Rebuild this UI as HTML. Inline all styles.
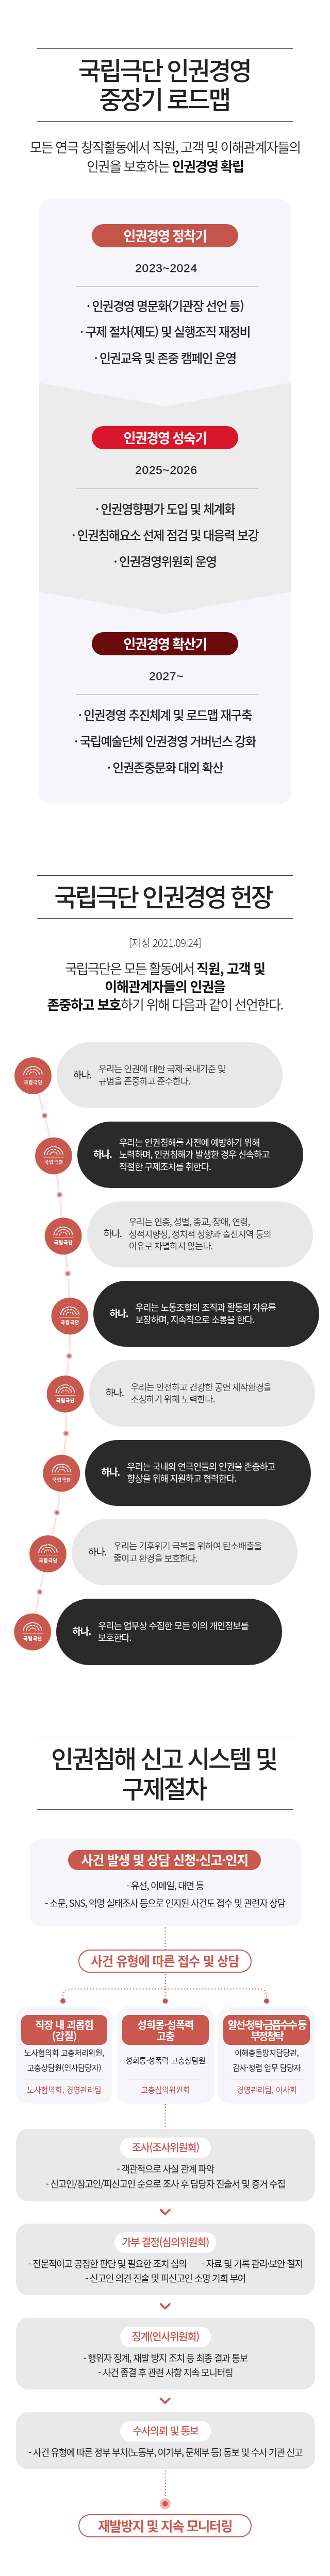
<!DOCTYPE html><html lang="ko"><head><meta charset="utf-8"><title>국립극단 인권경영</title><style>
*{margin:0;padding:0;box-sizing:border-box}
html,body{width:640px;height:5013px;background:#fff;overflow:hidden}
body{position:relative;will-change:transform;font-family:"Noto Sans CJK KR","Liberation Sans",sans-serif;color:#222;-webkit-font-smoothing:antialiased}
.abs{position:absolute}
.c{position:absolute;left:0;width:640px;text-align:center;white-space:nowrap}
.hl{position:absolute;height:1px;background:#333;left:72px;width:496px}
.title{font-size:48px;font-weight:500;line-height:58px;color:#222;letter-spacing:-3px}
.sub{font-size:26px;font-weight:350;line-height:37px;color:#222;letter-spacing:-1.8px}
.sub b{font-weight:700;color:#111}
.badge{position:absolute;left:178px;width:284px;height:45px;border-radius:23px;color:#fff;font-size:26px;font-weight:700;line-height:44px;text-align:center;letter-spacing:-1.7px}
.yr{font-family:'Liberation Sans',sans-serif;font-size:22.5px;font-weight:400;line-height:30px;color:#222;letter-spacing:0.8px;-webkit-text-stroke:0.4px #222;padding-left:5px}
.dv{position:absolute;left:147px;width:354px;height:2px;background:#cfcfd2}
.it{font-size:24px;font-weight:500;line-height:30px;color:#222;letter-spacing:-1.7px}

.date{font-size:20px;font-weight:300;line-height:24px;color:#333;letter-spacing:-0.7px}
.para{font-size:26px;font-weight:350;line-height:35px;color:#222;letter-spacing:-1.8px}
.para b{font-weight:700;color:#111;letter-spacing:-1.2px}
.pill{position:absolute;width:438px;height:128.3px;border-radius:65px}
.pl{background:#e8e8e8;color:#333}
.pd{background:#2a2a2a;color:#fff}
.hana{position:absolute;left:31px;top:0;height:128.3px;display:flex;align-items:center;font-size:18.5px;font-weight:500;letter-spacing:-1.5px;white-space:nowrap;padding-bottom:5px}
.pl .hana{color:#222;font-weight:400;left:32px}
.ptx{position:absolute;left:81px;top:0;height:128.3px;display:flex;align-items:center;font-size:17.5px;font-weight:350;line-height:23.4px;letter-spacing:-1px;white-space:nowrap;padding-bottom:3px}
.pd .ptx{font-weight:400}
.pd .hana{font-weight:700}

.bx{position:absolute;background:#f6f5fa}
.rb{position:absolute;background:#c9594e;color:#fff;font-weight:700;text-align:center;white-space:nowrap}
.t18{font-size:18px;font-weight:400;line-height:26px;color:#222;letter-spacing:-1.3px}
.op{position:absolute;left:152px;width:336px;height:45px;border:2px solid #c9594e;border-radius:23px;background:#fff;color:#c9594e;font-weight:700;text-align:center;white-space:nowrap;line-height:40px}
.col{position:absolute;top:3894.6px;width:187.6px;height:188px;border-radius:22px;background:#f6f5fa;text-align:center;white-space:nowrap}
.col .rb{left:10px;top:16.4px;width:167.6px;height:58.5px;border-radius:13px;font-size:20px;line-height:22.7px;letter-spacing:-1.1px;display:flex;align-items:center;justify-content:center;padding-top:2px}
.ct{position:absolute;left:0;width:100%;font-size:15px;font-weight:400;line-height:28.5px;color:#222;letter-spacing:-0.4px}
.cd{position:absolute;left:19px;right:19px;top:140px;height:1px;background:#d4d3d8}
.cr{position:absolute;left:0;width:100%;top:147.5px;font-size:15px;font-weight:400;line-height:28px;color:#c9524a;letter-spacing:-0.2px}
.gb{position:absolute;left:30.7px;width:580px;border-radius:24px;background:#e9e9e9;text-align:center;white-space:nowrap}
.lb{display:inline-block;margin-top:17px;height:39.5px;min-width:176px;padding:0 14px;border-radius:20px;background:#fff;color:#c9524a;font-size:20px;font-weight:500;line-height:37px;letter-spacing:-1.4px}
.gt{margin-top:7px;font-size:18px;font-weight:400;line-height:27.7px;color:#222;letter-spacing:-1.25px}
</style></head><body>
<div class="hl" style="top:94px"></div>
<div class="c title" style="top:106px;line-height:56px;letter-spacing:-3.7px;padding-right:3px">국립극단 인권경영<br>중장기 로드맵</div>
<div class="hl" style="top:235px"></div>
<div class="c sub" style="top:266px">모든 연극 창작활동에서 직원, 고객 및 이해관계자들의<br>인권을 보호하는 <b>인권경영 확립</b></div>
<svg class="abs" style="left:76px;top:387px" width="488" height="1173" viewBox="0 0 488 1173"><defs><clipPath id="cc"><rect width="488" height="1173" rx="20"/></clipPath></defs><g clip-path="url(#cc)"><rect width="488" height="1173" fill="#f6f5fa"/><polygon points="0,356 244,401.5 488,356 488,761.4 244,805 0,761.4" fill="#ececec"/></g></svg>
<div class="badge" style="top:435px;background:#c4554b">인권경영 정착기</div>
<div class="c yr" style="top:506px">2023~2024</div>
<div class="dv" style="top:555px"></div>
<div class="c it" style="top:577.5px">· 인권경영 명문화(기관장 선언 등)</div>
<div class="c it" style="top:628.0px">· 구제 절차(제도) 및 실행조직 재정비</div>
<div class="c it" style="top:678.5px">· 인권교육 및 존중 캠페인 운영</div>
<div class="badge" style="top:827px;background:#d9162b">인권경영 성숙기</div>
<div class="c yr" style="top:898px">2025~2026</div>
<div class="dv" style="top:947px"></div>
<div class="c it" style="top:971.5px">· 인권영향평가 도입 및 체계화</div>
<div class="c it" style="top:1022.5px">· 인권침해요소 선제 점검 및 대응력 보강</div>
<div class="c it" style="top:1073.5px">· 인권경영위원회 운영</div>
<div class="badge" style="top:1227px;background:#6b0a0a">인권경영 확산기</div>
<div class="c yr" style="top:1298px">2027~</div>
<div class="dv" style="top:1347px"></div>
<div class="c it" style="top:1371.5px">· 인권경영 추진체계 및 로드맵 재구축</div>
<div class="c it" style="top:1422.5px">· 국립예술단체 인권경영 거버넌스 강화</div>
<div class="c it" style="top:1473.5px">· 인권존중문화 대외 확산</div>
<div class="hl" style="top:1699px"></div>
<div class="c title" style="top:1708.5px;letter-spacing:-3.9px;padding-right:8px">국립극단 인권경영 헌장</div>
<div class="hl" style="top:1782px"></div>
<div class="c date" style="top:1818px">[제정 2021.09.24]</div>
<div class="c para" style="top:1861px"><span style="letter-spacing:-2.15px">국립극단은 모든 활동에서 </span><b>직원, 고객 및</b><br><b>이해관계자들의 인권을</b><br><b>존중하고 보호</b>하기 위해 다음과 같이 선언한다.</div>
<svg class="abs" style="left:0;top:2000px" width="640" height="1260" viewBox="0 2000 640 1260"><defs><g id="ic"><circle r="36" fill="#c9594e"/><g fill="none" stroke="#fff" stroke-width="1.8"><path d="M-18,-1.6 A18,16.2 0 0 1 18,-1.6" stroke-dasharray="8 0.8"/><path d="M-12.6,-1.6 A12.6,11 0 0 1 12.6,-1.6" stroke-dasharray="5 1.2"/><path d="M-7,-1.6 A7,6 0 0 1 7,-1.6" stroke-dasharray="3.4 1.2"/></g><rect x="-20" y="2.2" width="40" height="1" fill="#f3b9b2"/><text x="0.5" y="16" text-anchor="middle" font-size="9" font-weight="900" fill="#fff" letter-spacing="0.9" font-family="Noto Sans CJK KR, sans-serif">국립극단</text></g></defs><path d="M64.0,2088.0 C67.8,2100.9 79.8,2139.5 86.5,2165.4 C93.2,2191.3 99.2,2217.8 104.0,2243.4 C108.8,2269.0 112.4,2293.0 115.5,2319.0 C118.6,2345.0 120.0,2373.8 122.7,2399.3 C125.4,2424.8 129.4,2446.2 131.5,2472.0 C133.6,2497.8 135.0,2527.7 135.4,2554.4 C135.8,2581.1 135.5,2606.8 134.0,2632.0 C132.5,2657.2 127.6,2680.7 126.6,2705.7 C125.6,2730.7 129.2,2756.3 128.0,2782.0 C126.8,2807.7 122.2,2833.9 119.3,2859.6 C116.4,2885.3 114.9,2909.9 110.5,2936.0 C106.1,2962.1 98.6,2990.3 93.0,3016.0 C87.4,3041.7 82.0,3064.8 77.0,3090.0 C72.0,3115.2 65.5,3154.6 63.2,3167.5" fill="none" stroke="#fbe1de" stroke-width="3.4"/><circle cx="86.5" cy="2165.4" r="9.5" fill="#fff"/><circle cx="86.5" cy="2165.4" r="5.5" fill="#f2aaa3"/><circle cx="86.5" cy="2165.4" r="2.8" fill="#e0594f"/><circle cx="115.5" cy="2319" r="9.5" fill="#fff"/><circle cx="115.5" cy="2319" r="5.5" fill="#f2aaa3"/><circle cx="115.5" cy="2319" r="2.8" fill="#e0594f"/><circle cx="131.5" cy="2472" r="9.5" fill="#fff"/><circle cx="131.5" cy="2472" r="5.5" fill="#f2aaa3"/><circle cx="131.5" cy="2472" r="2.8" fill="#e0594f"/><circle cx="134" cy="2632" r="9.5" fill="#fff"/><circle cx="134" cy="2632" r="5.5" fill="#f2aaa3"/><circle cx="134" cy="2632" r="2.8" fill="#e0594f"/><circle cx="128" cy="2782" r="9.5" fill="#fff"/><circle cx="128" cy="2782" r="5.5" fill="#f2aaa3"/><circle cx="128" cy="2782" r="2.8" fill="#e0594f"/><circle cx="110.5" cy="2936" r="9.5" fill="#fff"/><circle cx="110.5" cy="2936" r="5.5" fill="#f2aaa3"/><circle cx="110.5" cy="2936" r="2.8" fill="#e0594f"/><circle cx="77" cy="3090" r="9.5" fill="#fff"/><circle cx="77" cy="3090" r="5.5" fill="#f2aaa3"/><circle cx="77" cy="3090" r="2.8" fill="#e0594f"/><use href="#ic" x="64" y="2088"/><use href="#ic" x="104" y="2243.4"/><use href="#ic" x="122.7" y="2399.3"/><use href="#ic" x="135.4" y="2554.4"/><use href="#ic" x="126.6" y="2705.7"/><use href="#ic" x="119.3" y="2859.6"/><use href="#ic" x="93" y="3016"/><use href="#ic" x="63.2" y="3167.5"/></svg>
<div class="pill pl" style="left:110.0px;top:2023.0px"><div class="hana">하나.</div><div class="ptx"><span>우리는 인권에 대한 국제·국내기준 및<br>규범을 존중하고 준수한다.</span></div></div>
<div class="pill pd" style="left:150.0px;top:2177.3px"><div class="hana">하나.</div><div class="ptx"><span>우리는 인권침해를 사전에 예방하기 위해<br>노력하며, 인권침해가 발생한 경우 신속하고<br>적절한 구제조치를 취한다.</span></div></div>
<div class="pill pl" style="left:168.7px;top:2331.7px"><div class="hana">하나.</div><div class="ptx"><span>우리는 인종, 성별, 종교, 장애, 연령,<br>성적지향성, 정치적 성향과 출신지역 등의<br>이유로 차별하지 않는다.</span></div></div>
<div class="pill pd" style="left:181.4px;top:2486.0px"><div class="hana">하나.</div><div class="ptx"><span>우리는 노동조합의 조직과 활동의 자유를<br>보장하며, 지속적으로 소통을 한다.</span></div></div>
<div class="pill pl" style="left:172.6px;top:2640.3px"><div class="hana">하나.</div><div class="ptx"><span>우리는 안전하고 건강한 공연 제작환경을<br>조성하기 위해 노력한다.</span></div></div>
<div class="pill pd" style="left:165.3px;top:2794.7px"><div class="hana">하나.</div><div class="ptx"><span>우리는 국내외 연극인들의 인권을 존중하고<br>향상을 위해 지원하고 협력한다.</span></div></div>
<div class="pill pl" style="left:139.0px;top:2949.0px"><div class="hana">하나.</div><div class="ptx"><span>우리는 기후위기 극복을 위하여 탄소배출을<br>줄이고 환경을 보호한다.</span></div></div>
<div class="pill pd" style="left:109.2px;top:3103.3px"><div class="hana">하나.</div><div class="ptx"><span>우리는 업무상 수집한 모든 이의 개인정보를<br>보호한다.</span></div></div>
<div class="hl" style="top:3371px"></div>
<div class="c title" style="top:3382px;letter-spacing:-3.45px;padding-right:5px">인권침해 신고 시스템 및<br>구제절차</div>
<div class="hl" style="top:3512px"></div>
<div class="bx" style="left:58px;top:3570.4px;width:526.5px;height:168.5px;border-radius:22px"></div>
<div class="rb" style="left:132.4px;top:3591.3px;width:374px;height:39px;border-radius:20px;font-size:25px;line-height:37px;letter-spacing:-1.03px">사건 발생 및 상담 신청·신고·인지</div>
<div class="c t18" style="top:3645.5px">- 유선, 이메일, 대면 등</div>
<div class="c t18" style="top:3680px">- 소문, SNS, 익명 실태조사 등으로 인지된 사건도 접수 및 관련자 상담</div>
<svg class="abs" style="left:0;top:3730px" width="640" height="1180" viewBox="0 3730 640 1180"><g fill="none" stroke="#d2594e" stroke-width="2" stroke-dasharray="2 4"><path d="M320.5,3741 V3784"/><path d="M320.5,3831 V3878"/><path d="M320.5,3860.5 H137 Q122,3860.5 122,3875.5 V3880"/><path d="M320.5,3860.5 H502 Q517,3860.5 517,3875.5 V3880"/><path d="M320.5,4084 V4132"/><path d="M320.5,4795 V4847"/></g><circle cx="122" cy="3884" r="5.1" fill="#c9594e"/><circle cx="320.6" cy="3884" r="5.1" fill="#c9594e"/><circle cx="517" cy="3884" r="5.1" fill="#c9594e"/><circle cx="320.2" cy="4859.7" r="10.6" fill="#f1b8b1"/><circle cx="320.2" cy="4859.7" r="5.1" fill="#d0564b"/><path d="M311.6,4289.2 L320.3,4297.7 L329,4289.2" fill="none" stroke="#c9594e" stroke-width="3.8" stroke-linecap="round" stroke-linejoin="round"/><path d="M311.6,4472.2 L320.3,4480.7 L329,4472.2" fill="none" stroke="#c9594e" stroke-width="3.8" stroke-linecap="round" stroke-linejoin="round"/><path d="M311.6,4655.7 L320.3,4664.2 L329,4655.7" fill="none" stroke="#c9594e" stroke-width="3.8" stroke-linecap="round" stroke-linejoin="round"/></svg>
<div class="op" style="top:3784.3px;font-size:24.5px;letter-spacing:-1px">사건 유형에 따른 접수 및 상담</div>
<div class="col" style="left:30.6px"><div class="rb"><span>직장 내 괴롭힘<br>(갑질)</span></div><div class="ct" style="top:75.5px">노사협의회 고충처리위원,<br>고충상담원(인사담당자)</div><div class="cd"></div><div class="cr">노사협의회, 경영관리팀</div></div>
<div class="col" style="left:227.0px"><div class="rb"><span>성희롱·성폭력<br>고충</span></div><div class="ct" style="top:90px">성희롱·성폭력 고충상담원</div><div class="cd"></div><div class="cr">고충심의위원회</div></div>
<div class="col" style="left:423.4px"><div class="rb"><span style="letter-spacing:-2.8px">알선·청탁·금품수수 등<br>부정청탁</span></div><div class="ct" style="top:75.5px">이해충돌방지담당관,<br>감사·청렴 업무 담당자</div><div class="cd"></div><div class="cr">경영관리팀, 이사회</div></div>
<div class="gb" style="top:4132px;height:141px"><span class="lb">조사(조사위원회)</span><div class="gt" style="margin-top:6px;line-height:29px">- 객관적으로 사실 관계 파악<br>- 신고인/참고인/피신고인 순으로 조사 후 담당자 진술서 및 증거 수집</div></div>
<div class="gb" style="top:4316.4px;height:139px"><span class="lb">가부 결정(심의위원회)</span><div class="gt">- 전문적이고 공정한 판단 및 필요한 조치 심의<span style="display:inline-block;width:29px"></span>- 자료 및 기록 관리·보안 철저<br>- 신고인 의견 진술 및 피신고인 소명 기회 부여</div></div>
<div class="gb" style="top:4499.3px;height:139px"><span class="lb">징계(인사위원회)</span><div class="gt">- 행위자 징계, 재발 방지 조치 등 최종 결과 통보<br>- 사건 종결 후 관련 사항 지속 모니터링</div></div>
<div class="gb" style="top:4682px;height:111.3px"><span class="lb">수사의뢰 및 통보</span><div class="gt">- 사건 유형에 따른 정부 부처(노동부, 여가부, 문체부 등) 통보 및 수사 기관 신고</div></div>
<div class="op" style="top:4880.4px;height:44.5px;font-size:26px;letter-spacing:-1.8px">재발방지 및 지속 모니터링</div>
</body></html>
